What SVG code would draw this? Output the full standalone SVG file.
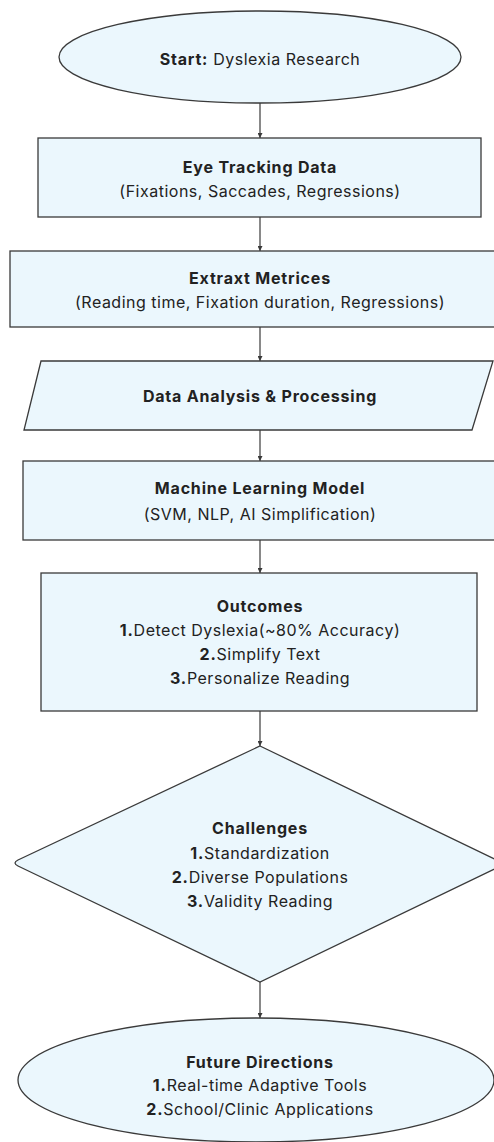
<svg xmlns="http://www.w3.org/2000/svg" width="494" height="1142" viewBox="0 0 494 1142">
<style>
.n{fill:#EBF7FD;stroke:#3a3a3a;stroke-width:1.3}
text{font-family:Inter,"Noto Sans",sans-serif;font-size:16px;letter-spacing:0.5px;fill:#222;text-anchor:middle;dominant-baseline:central}
.b{font-weight:700;letter-spacing:0.8px}
.c line{stroke:#3a3a3a;stroke-width:1.2}
</style>
<defs>
<marker id="a" viewBox="0 0 6 6" refX="6" refY="3" markerWidth="5" markerHeight="5" orient="auto" markerUnits="userSpaceOnUse">
<path d="M0,0 L6,3 L0,6 Z" fill="#3a3a3a"/>
</marker>
</defs>
<rect width="494" height="1142" fill="#fff"/>
<g class="c">
<line x1="260" y1="103" x2="260" y2="138" marker-end="url(#a)"/>
<line x1="260" y1="217" x2="260" y2="251" marker-end="url(#a)"/>
<line x1="260" y1="327" x2="260" y2="361" marker-end="url(#a)"/>
<line x1="260" y1="430" x2="260" y2="461" marker-end="url(#a)"/>
<line x1="260" y1="540" x2="260" y2="573" marker-end="url(#a)"/>
<line x1="260" y1="711" x2="260" y2="746" marker-end="url(#a)"/>
<line x1="260" y1="982" x2="260" y2="1018" marker-end="url(#a)"/>
</g>
<g id="start">
<ellipse class="n" cx="260" cy="57" rx="201" ry="46"/>
<text x="260" y="59"><tspan class="b">Start:</tspan> Dyslexia Research</text>
</g>
<g id="eye">
<rect class="n" x="38" y="138" width="443" height="79"/>
<text class="b" x="260" y="167">Eye Tracking Data</text>
<text x="260" y="191">(Fixations, Saccades, Regressions)</text>
</g>
<g id="metrics">
<rect class="n" x="10" y="251" width="492" height="76"/>
<text class="b" x="260" y="278">Extraxt Metrices</text>
<text x="260" y="302">(Reading time, Fixation duration, Regressions)</text>
</g>
<g id="analysis">
<polygon class="n" points="41,361 493,361 472,430 24,430"/>
<text class="b" x="260" y="396">Data Analysis &amp; Processing</text>
</g>
<g id="ml">
<rect class="n" x="23" y="461" width="480" height="79"/>
<text class="b" x="260" y="488">Machine Learning Model</text>
<text x="260" y="514">(SVM, NLP, AI Simplification)</text>
</g>
<g id="outcomes">
<rect class="n" x="41" y="573" width="436" height="138"/>
<text class="b" x="260" y="606">Outcomes</text>
<text x="260" y="630"><tspan class="b">1.</tspan>Detect Dyslexia(~80% Accuracy)</text>
<text x="260" y="654"><tspan class="b">2.</tspan>Simplify Text</text>
<text x="260" y="678"><tspan class="b">3.</tspan>Personalize Reading</text>
</g>
<g id="challenges">
<path class="n" d="M260,746 L505,864 L260,982 L18,866 Q12,863 18,860 Z"/>
<text class="b" x="260" y="828">Challenges</text>
<text x="260" y="853"><tspan class="b">1.</tspan>Standardization</text>
<text x="260" y="877"><tspan class="b">2.</tspan>Diverse Populations</text>
<text x="260" y="901"><tspan class="b">3.</tspan>Validity Reading</text>
</g>
<g id="future">
<ellipse class="n" cx="256" cy="1080" rx="238" ry="62"/>
<text class="b" x="260" y="1062">Future Directions</text>
<text x="260" y="1085"><tspan class="b">1.</tspan>Real-time Adaptive Tools</text>
<text x="260" y="1109"><tspan class="b">2.</tspan>School/Clinic Applications</text>
</g>
</svg>
